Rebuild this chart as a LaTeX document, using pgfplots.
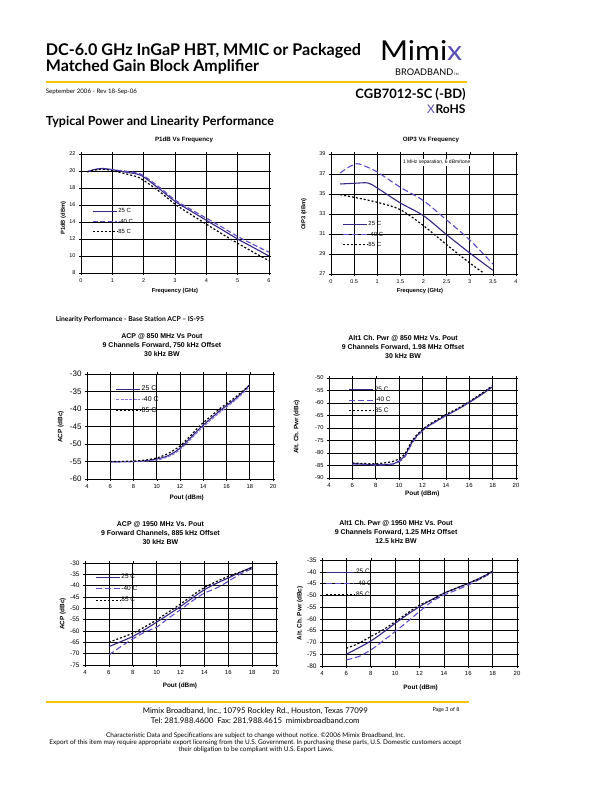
\documentclass[border=0pt]{standalone}
\usepackage{pgfplots}
\pgfplotsset{compat=1.18}
\usepackage{fontspec}
\usepackage{graphicx}
\setmainfont{Liberation Sans}
\newfontfamily\lato{Lato}
\definecolor{c25}{RGB}{52,40,130}
\definecolor{c40}{RGB}{95,75,200}
\definecolor{c40l}{RGB}{140,110,230}
\definecolor{gold}{RGB}{245,196,0}
\definecolor{logop}{RGB}{90,80,180}
\newcommand{\fs}[1]{\fontsize{#1}{#1}\selectfont}
\frenchspacing
\pgfplotsset{
 ds/.style={
  scale only axis, clip=false,
  axis line style={black, line width=0.9pt},
  grid=major, major grid style={black, line width=0.55pt},
  tick style={black, line width=0.5pt}, tick align=outside, major tick length=2pt,
  /pgf/number format/assume math mode=true,
  title style={font=\bfseries\fs{7}, align=center, inner sep=0pt},
  xlabel style={font=\bfseries\fs{6}},
  ylabel style={font=\bfseries\fs{6}},
  legend cell align=left,
  legend image code/.code={\draw[##1] (0bp,0bp) -- (24bp,0bp);},
  legend style={draw=none, fill=none, inner sep=0pt, row sep=2.5pt, anchor=west, font=\fs{6.5}, nodes={inner sep=1pt}},
 },
 p25/.style={color=c25, solid, line width=1.1pt, smooth},
 p40/.style={color=c40, dash pattern=on 5pt off 2.5pt, line width=1.1pt, smooth},
 p40f/.style={color=c40l, dash pattern=on 3pt off 1.5pt, line width=1pt, smooth},
 p85/.style={color=black, dash pattern=on 2pt off 2pt, line width=1.2pt, smooth},
}
\begin{document}
\frenchspacing
\begin{tikzpicture}
\path[use as bounding box, fill=white] (0,0) rectangle (612bp,-792bp);

% ---------------- header ----------------
\node[anchor=base west, inner sep=0pt] at (45.7bp,-55bp) {\resizebox{315bp}{!}{\lato\bfseries DC-6.0 GHz InGaP HBT, MMIC or Packaged}};
\node[anchor=base west, inner sep=0pt] at (45.7bp,-71.7bp) {\resizebox{213bp}{!}{\lato\bfseries Matched Gain Block Amplifier}};
\node[anchor=base west, inner sep=0pt] at (380bp,-60bp) {\resizebox{82bp}{20bp}{\lato Mimi\textcolor{logop}{x}}};
\node[anchor=base west, inner sep=0pt] at (395bp,-75bp) {\resizebox{58bp}{!}{\lato BROADBAND}};
\node[anchor=base west, inner sep=0pt] at (454bp,-75bp) {\lato\fs{3}TM};
\draw[gold, line width=1.8bp] (45.7bp,-81.7bp) -- (466.7bp,-81.7bp);
\node[anchor=base west, inner sep=0pt] at (45.7bp,-93.3bp) {\resizebox{91bp}{!}{\lato September 2006 - Rev 18-Sep-06}};
\node[anchor=base east, inner sep=0pt] at (465.7bp,-98.3bp) {\resizebox{110bp}{!}{\lato\bfseries CGB7012-SC (-BD)}};
\node[anchor=base east, inner sep=0pt] at (465.7bp,-113.3bp) {\resizebox{30bp}{!}{\lato\bfseries RoHS}};
\node[anchor=base east, inner sep=0pt] at (435bp,-113.3bp) {\lato\fs{12}\textcolor{logop}{X}};
\node[anchor=base west, inner sep=0pt] at (45.7bp,-125.7bp) {\resizebox{228bp}{!}{\lato\bfseries Typical Power and Linearity Performance}};
\node[anchor=base west, inner sep=0pt] at (55.7bp,-321bp) {\resizebox{148bp}{!}{\lato\bfseries Linearity Performance - Base Station ACP – IS-95}};

% ---------------- P1dB ----------------
\begin{axis}[ds, at={(81bp,-154bp)}, anchor=north west, width=188bp, height=119bp,
 xmin=0, xmax=6, ymin=8, ymax=22, xtick={0,1,...,6}, ytick={8,10,...,22},
 tick label style={font=\fs{5.5}},
 title={P1dB Vs Frequency}, title style={at={(axis description cs:0.548,1.055)}, anchor=base, font=\bfseries\fs{6.2}},
 xlabel={Frequency (GHz)}, xlabel style={at={(axis description cs:0.5,-0.155)}, anchor=center, font=\bfseries\fs{5.8}},
 ylabel={P1dB (dBm)}, ylabel style={at={(axis description cs:-0.094,0.46)}, anchor=center, font=\bfseries\fs{5.8}},
 legend style={at={(axis cs:0.35,14.04)}, font=\fs{6}},
]
\addplot[p25] coordinates {(0.2,19.92) (0.4,20.15) (0.67,20.3) (1.0,20.16) (1.46,19.85) (1.78,19.65) (2.0,19.3) (2.5,17.9) (3.0,16.43) (3.5,15.3) (4.0,14.2) (4.5,13.1) (5.0,12.0) (5.5,11.0) (6.0,10.0)};
\addplot[p40] coordinates {(0.2,19.9) (0.4,20.1) (0.6,20.25) (1.0,20.15) (1.5,19.95) (1.8,19.75) (2.0,19.45) (2.5,18.1) (3.0,16.6) (3.5,15.5) (4.0,14.45) (4.5,13.4) (5.0,12.3) (5.5,11.35) (6.0,10.45)};
\addplot[p85] coordinates {(0.2,19.9) (0.4,20.1) (0.7,20.2) (1.0,20.05) (1.5,19.6) (1.8,19.3) (2.0,18.9) (2.5,17.6) (3.0,16.1) (3.5,14.9) (4.0,13.75) (4.5,12.6) (5.0,11.5) (5.5,10.45) (6.0,9.45)};
\legend{25 C, -40 C, 85 C}
\end{axis}

% ---------------- OIP3 ----------------
\begin{axis}[ds, at={(331bp,-154bp)}, anchor=north west, width=185bp, height=120bp,
 xmin=0, xmax=4, ymin=27, ymax=39, xtick={0,0.5,...,4}, ytick={27,29,...,39},
 tick label style={font=\fs{5.5}},
 title={OIP3 Vs Frequency}, title style={at={(axis description cs:0.54,1.055)}, anchor=base, font=\bfseries\fs{6.2}},
 xlabel={Frequency (GHz)}, xlabel style={at={(axis description cs:0.481,-0.145)}, anchor=center, font=\bfseries\fs{5.8}},
 ylabel={OIP3 (dBm)}, ylabel style={at={(axis description cs:-0.146,0.5)}, anchor=center, font=\bfseries\fs{5.8}},
 legend style={at={(axis cs:0.24,30.93)}, font=\fs{6}},
]
\addplot[p25] coordinates {(0.2,36.0) (0.5,36.07) (0.8,36.1) (1.0,35.6) (1.5,34.1) (2.0,32.83) (2.5,30.93) (3.0,29.1) (3.5,27.37)};
\addplot[p40, dash pattern=on 6pt off 3pt] coordinates {(0.2,37.1) (0.35,37.6) (0.55,38.03) (0.7,37.85) (1.0,37.2) (1.5,35.67) (2.0,34.33) (2.5,32.4) (3.0,30.4) (3.5,28.0)};
\addplot[p85] coordinates {(0.2,34.93) (0.5,34.67) (1.0,34.17) (1.5,33.43) (2.0,31.83) (2.5,29.93) (3.0,28.1) (3.3,27.1)};
\legend{25 C, -40 C, 85 C}
\node[font=\fs{5}, fill=white, inner sep=1pt] at (axis cs:2.285,38.16) {1 MHz separation, 6 dBm/tone};
\end{axis}

% ---------------- ACP 850 ----------------
\begin{axis}[ds, at={(87bp,-374bp)}, anchor=north west, width=186bp, height=105bp,
 xmin=4, xmax=20, ymin=-60, ymax=-30, xtick={4,6,...,20}, ytick={-60,-55,...,-30},
 xticklabel style={font=\fs{5.8}}, yticklabel style={font=\fs{8}},
 title={ACP @ 850 MHz Vs Pout\\9 Channels Forward, 750 kHz Offset\\30 kHz BW},
 title style={at={(axis description cs:0.403,1.105)}, anchor=south, font=\bfseries\fontsize{7}{9}\selectfont},
 xlabel={Pout (dBm)}, xlabel style={at={(axis description cs:0.536,-0.181)}, anchor=center, font=\bfseries\fs{6.4}},
 ylabel={ACP (dBc)}, ylabel style={at={(axis description cs:-0.141,0.495)}, anchor=center, font=\bfseries\fs{6.4}},
 legend style={at={(axis cs:6.43,-37.4)}, font=\fs{7}},
]
\addplot[p25] coordinates {(6,-55.1) (7,-55.05) (8,-55.0) (9,-54.8) (10,-54.3) (10.5,-53.9) (11,-53.3) (11.5,-52.4) (12,-51.2) (12.5,-49.6) (13,-47.9) (13.5,-46.2) (14,-44.6) (14.5,-43.1) (15,-41.7) (15.5,-40.3) (16,-39.0) (16.5,-37.8) (17,-36.4) (17.5,-34.8) (18,-33.0)};
\addplot[p40f] coordinates {(6,-55.2) (8,-55.05) (9,-54.9) (10,-54.6) (10.5,-54.2) (11,-53.6) (11.5,-52.8) (12,-51.6) (12.5,-50.1) (13,-48.4) (13.5,-46.7) (14,-45.1) (14.5,-43.6) (15,-42.2) (15.5,-40.8) (16,-39.5) (16.5,-38.2) (17,-36.8) (17.5,-35.2) (18,-33.6)};
\addplot[p85] coordinates {(6,-55.0) (8,-54.9) (9,-54.6) (10,-54.0) (10.5,-53.4) (11,-52.7) (11.5,-51.7) (12,-50.6) (12.5,-49.0) (13,-47.3) (13.5,-45.5) (14,-43.9) (14.5,-42.5) (15,-41.1) (15.5,-39.7) (16,-38.5) (16.5,-37.3) (17,-36.0) (17.5,-34.6) (18,-33.2)};
\legend{25 C, -40 C, 85 C}
\end{axis}

% ---------------- Alt1 850 ----------------
\begin{axis}[ds, at={(329bp,-378bp)}, anchor=north west, width=187bp, height=100bp,
 xmin=4, xmax=20, ymin=-90, ymax=-50, xtick={4,6,...,20}, ytick={-90,-85,...,-50},
 xticklabel style={font=\fs{6}}, yticklabel style={font=\fs{5.8}},
 title={Alt1 Ch. Pwr @ 850 MHz Vs. Pout\\9 Channels Forward, 1.98 MHz Offset\\30 kHz BW},
 title style={at={(axis description cs:0.396,1.134)}, anchor=south, font=\bfseries\fontsize{7}{9}\selectfont},
 xlabel={Pout (dBm)}, xlabel style={at={(axis description cs:0.499,-0.156)}, anchor=center, font=\bfseries\fs{6.4}},
 ylabel={Alt. Ch. Pwr (dBc)}, ylabel style={at={(axis description cs:-0.173,0.51)}, anchor=center, font=\bfseries\fs{6.4}},
 legend style={at={(axis cs:5.66,-58.9)}, font=\fs{6.5}},
]
\addplot[p25] coordinates {(6,-84.2) (7,-84.5) (8,-84.7) (9,-84.6) (9.5,-84.3) (10,-83.2) (10.5,-81.0) (11,-76.5) (11.5,-73.2) (12,-71.0) (12.5,-69.2) (13,-67.8) (14,-65.0) (15,-62.6) (16,-59.8) (17,-56.8) (18,-53.5)};
\addplot[p40, dash pattern=on 6pt off 3pt] coordinates {(6,-84.4) (7,-84.6) (8,-84.8) (9,-84.7) (9.5,-84.4) (10,-83.5) (10.5,-81.5) (11,-77.0) (11.5,-73.5) (12,-71.2) (12.5,-69.3) (13,-67.9) (14,-65.1) (15,-62.5) (16,-59.6) (17,-56.5) (18,-53.2)};
\addplot[p85] coordinates {(6,-84.0) (7,-84.2) (8,-84.3) (9,-83.8) (9.5,-83.3) (10,-82.3) (10.5,-80.3) (11,-76.0) (11.5,-72.8) (12,-70.6) (12.5,-68.8) (13,-67.4) (14,-64.6) (15,-62.2) (16,-59.4) (17,-56.4) (18,-53.0)};
\legend{25 C, -40 C, 85 C}
\end{axis}

% ---------------- ACP 1950 ----------------
\begin{axis}[ds, at={(85bp,-563bp)}, anchor=north west, width=191bp, height=102bp,
 xmin=4, xmax=20, ymin=-75, ymax=-30, xtick={4,6,...,20}, ytick={-75,-70,...,-30},
 xticklabel style={font=\fs{6}}, yticklabel style={font=\fs{6.5}},
 title={ACP @ 1950 MHz Vs. Pout\\9 Forward Channels, 885 kHz Offset\\30 kHz BW},
 title style={at={(axis description cs:0.395,1.124)}, anchor=south, font=\bfseries\fontsize{7}{9}\selectfont},
 xlabel={Pout (dBm)}, xlabel style={at={(axis description cs:0.497,-0.206)}, anchor=center, font=\bfseries\fs{6.4}},
 ylabel={ACP (dBc)}, ylabel style={at={(axis description cs:-0.117,0.5)}, anchor=center, font=\bfseries\fs{6.4}},
 legend style={at={(axis cs:4.84,-41.4)}, font=\fs{6.5}, row sep=3.5pt},
]
\addplot[p25] coordinates {(6,-66.9) (7,-64.7) (8,-62.4) (9,-59.4) (10,-56.1) (11,-52.7) (12,-49.2) (13,-45.4) (14,-41.8) (15,-39.0) (16,-36.6) (17,-34.1) (18,-31.8)};
\addplot[p40, dash pattern=on 6pt off 3pt] coordinates {(6,-70.6) (7,-66.9) (8,-63.5) (9,-60.5) (10,-58.3) (11,-54.3) (12,-50.6) (13,-46.7) (14,-43.3) (15,-41.1) (16,-38.1) (17,-34.9) (18,-32.5)};
\addplot[p85] coordinates {(6,-65.0) (7,-63.0) (8,-61.0) (9,-58.2) (10,-55.1) (11,-51.6) (12,-48.1) (13,-44.3) (14,-40.8) (15,-38.2) (16,-35.9) (17,-34.0) (18,-32.2)};
\legend{25 C, -40 C, 85 C}
\end{axis}

% ---------------- Alt1 1950 ----------------
\begin{axis}[ds, at={(322bp,-560bp)}, anchor=north west, width=195bp, height=106bp,
 xmin=4, xmax=20, ymin=-80, ymax=-35, xtick={4,6,...,20}, ytick={-80,-75,...,-35},
 xticklabel style={font=\fs{6}}, yticklabel style={font=\fs{6.5}},
 title={Alt1 Ch. Pwr @ 1950 MHz Vs. Pout\\9 Channels Forward, 1.25 MHz Offset\\12.5 kHz BW},
 title style={at={(axis description cs:0.38,1.094)}, anchor=south, font=\bfseries\fontsize{7}{9}\selectfont},
 xlabel={Pout (dBm)}, xlabel style={at={(axis description cs:0.506,-0.21)}, anchor=center, font=\bfseries\fs{6.4}},
 ylabel={Alt. Ch. Pwr (dBc)}, ylabel style={at={(axis description cs:-0.113,0.497)}, anchor=center, font=\bfseries\fs{6.4}},
 legend image code/.code={\draw[#1] (0bp,0bp) -- (28bp,0bp);},
 legend style={at={(axis cs:4.3,-45)}, font=\fs{6.5}, row sep=3.5pt},
]
\addplot[p25] coordinates {(6,-75.0) (7,-72.3) (8,-69.4) (9,-65.8) (10,-61.9) (11,-58.2) (12,-54.8) (13,-51.8) (14,-49.1) (15,-47.0) (16,-44.9) (17,-42.5) (18,-40.0)};
\addplot[p40, dash pattern=on 6pt off 3pt] coordinates {(6,-77.4) (7,-76.0) (8,-73.2) (9,-69.4) (10,-65.4) (11,-61.2) (12,-56.9) (13,-52.7) (14,-49.9) (15,-47.8) (16,-45.6) (17,-43.0) (18,-40.2)};
\addplot[p85] coordinates {(6,-72.5) (7,-70.4) (8,-67.5) (9,-64.7) (10,-61.2) (11,-57.6) (12,-54.1) (13,-52.0) (14,-49.1) (15,-47.0) (16,-44.9) (17,-42.8) (18,-39.7)};
\legend{25 C, -40 C, 85 C}
\end{axis}

% ---------------- footer ----------------
\draw[gold, line width=1.8bp] (45.7bp,-701.7bp) -- (469bp,-701.7bp);
\node[anchor=base west, inner sep=0pt] at (142.7bp,-713.3bp) {\resizebox{225bp}{!}{\lato Mimix Broadband, Inc., 10795 Rockley Rd., Houston, Texas 77099}};
\node[anchor=base west, inner sep=0pt] at (150.7bp,-723.3bp) {\resizebox{208.7bp}{!}{\lato Tel: 281.988.4600\enspace Fax: 281.988.4615\enspace mimixbroadband.com}};
\node[anchor=base west, inner sep=0pt] at (432.3bp,-711bp) {\resizebox{27bp}{!}{\lato Page 3 of 8}};
\node[anchor=base west, inner sep=0pt] at (106bp,-737.7bp) {\resizebox{299bp}{!}{\lato Characteristic Data and Specifications are subject to change without notice. ©2006 Mimix Broadband, Inc.}};
\node[anchor=base west, inner sep=0pt] at (49.3bp,-744.3bp) {\resizebox{411.7bp}{!}{\lato Export of this item may require appropriate export licensing from the U.S. Government. In purchasing these parts, U.S. Domestic customers accept}};
\node[anchor=base west, inner sep=0pt] at (178.3bp,-751bp) {\resizebox{155bp}{!}{\lato their obligation to be compliant with U.S. Export Laws.}};
\end{tikzpicture}
\end{document}
